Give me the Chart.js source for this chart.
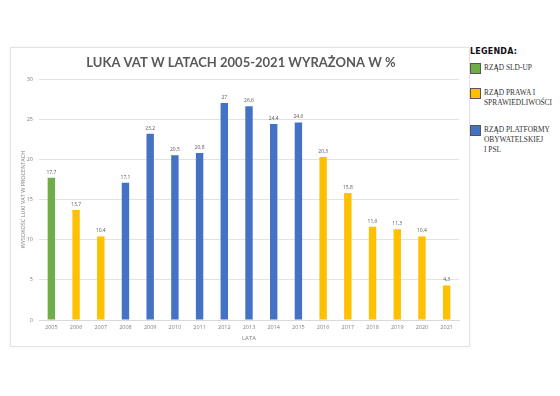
<!DOCTYPE html>
<html>
<head>
<meta charset="utf-8">
<script src="https://cdn.jsdelivr.net/npm/chart.js@4"></script>
<style>
  body { margin:0; background:#fff; width:560px; height:396px; position:relative; overflow:hidden; }
  #box { position:absolute; left:10px; top:47px; width:458px; height:298px; border:1px solid #e3e3e3; box-shadow:0 0 2px rgba(0,0,0,0.06); background:#fff; }
  #legend { position:absolute; left:470px; top:47px; width:90px; color:#333; }
  #legend .head { font:bold 8px "DejaVu Sans"; color:#111; letter-spacing:0.2px; margin-bottom:7px; }
  #legend .item { position:relative; padding-left:14px; font:7.4px/10px "Liberation Serif"; margin-bottom:15px; white-space:nowrap; }
  #legend .sw { position:absolute; left:0; top:0; width:9px; height:9px; border:1px solid #555; }
</style>
</head>
<body>
<div id="box"><canvas id="chart" width="458" height="298"></canvas></div>
<div id="legend">
  <div class="head">LEGENDA:</div>
  <div class="item"><span class="sw" style="background:#70ad47"></span>RZĄD SLD-UP</div>
  <div class="item" style="margin-bottom:17px"><span class="sw" style="background:#ffc000"></span>RZĄD PRAWA I<br>SPRAWIEDLIWOŚCI</div>
  <div class="item"><span class="sw" style="background:#4472c4"></span>RZĄD PLATFORMY<br>OBYWATELSKIEJ<br>I PSL</div>
</div>
<script>
const years = ["2005","2006","2007","2008","2009","2010","2011","2012","2013","2014","2015","2016","2017","2018","2019","2020","2021"];
const vatGap = [17.7, 13.7, 10.4, 17.1, 23.2, 20.5, 20.8, 27, 26.6, 24.4, 24.6, 20.3, 15.8, 11.6, 11.3, 10.4, 4.3];
const government = ["SLD","PIS","PIS","PO","PO","PO","PO","PO","PO","PO","PO","PIS","PIS","PIS","PIS","PIS","PIS"];
const yTicks = [0, 5, 10, 15, 20, 25, 30];
const govColors = { SLD: "#70ad47", PIS: "#ffc000", PO: "#4472c4" };

const titleText = "LUKA VAT W LATACH 2005-2021 WYRAŻONA W %";

// title + value labels drawn on the canvas
const extras = {
  id: "extras",
  afterDatasetsDraw(chart) {
    const ctx = chart.ctx;
    ctx.save();
    ctx.fillStyle = "#595959";
    ctx.font = "bold 13px Lato";
    ctx.textAlign = "center";
    ctx.textBaseline = "middle";
    ctx.fillText(titleText, chart.width / 2 + 1, 15);
    ctx.font = "5px 'Open Sans'";
    ctx.textBaseline = "bottom";
    chart.getDatasetMeta(0).data.forEach((bar, i) => {
      ctx.fillText(String(vatGap[i]).replace(".", ","), bar.x, bar.y - 3);
    });
    ctx.restore();
  }
};

new Chart(document.getElementById("chart"), {
  type: "bar",
  data: {
    labels: years,
    datasets: [{
      data: vatGap,
      backgroundColor: government.map(g => govColors[g]),
      barPercentage: 0.3,
      categoryPercentage: 1
    }]
  },
  options: {
    responsive: false,
    animation: false,
    layout: { padding: { top: 31, right: 10, left: 0, bottom: 0 } },
    plugins: { legend: { display: false }, tooltip: { enabled: false } },
    scales: {
      x: {
        grid: { display: false, drawTicks: false },
        border: { color: "#d9d9d9" },
        ticks: { color: "#7f7f7f", font: { size: 5.5, family: "Open Sans" }, padding: 4, maxRotation: 0 },
        title: { display: true, text: "LATA", color: "#7f7f7f", font: { size: 6, family: "Open Sans" }, padding: { top: 2 } },
        afterFit(s) { s.width; s.height = 26; }
      },
      y: {
        min: 0, max: 30,
        afterBuildTicks(s) { s.ticks = yTicks.map(v => ({ value: v })); },
        grid: { color: "#e3e3e3", drawTicks: false },
        border: { display: false },
        ticks: { color: "#7f7f7f", font: { size: 5.5, family: "Open Sans" }, padding: 6 },
        title: { display: true, text: "WYSOKOŚĆ LUKI VAT W PROCENTACH", color: "#7f7f7f", font: { size: 5.5, family: "Open Sans" }, padding: { top: 9, bottom: 0 } },
        afterFit(s) { s.width = 28; }
      }
    }
  },
  plugins: [extras]
});
</script>
</body>
</html>
